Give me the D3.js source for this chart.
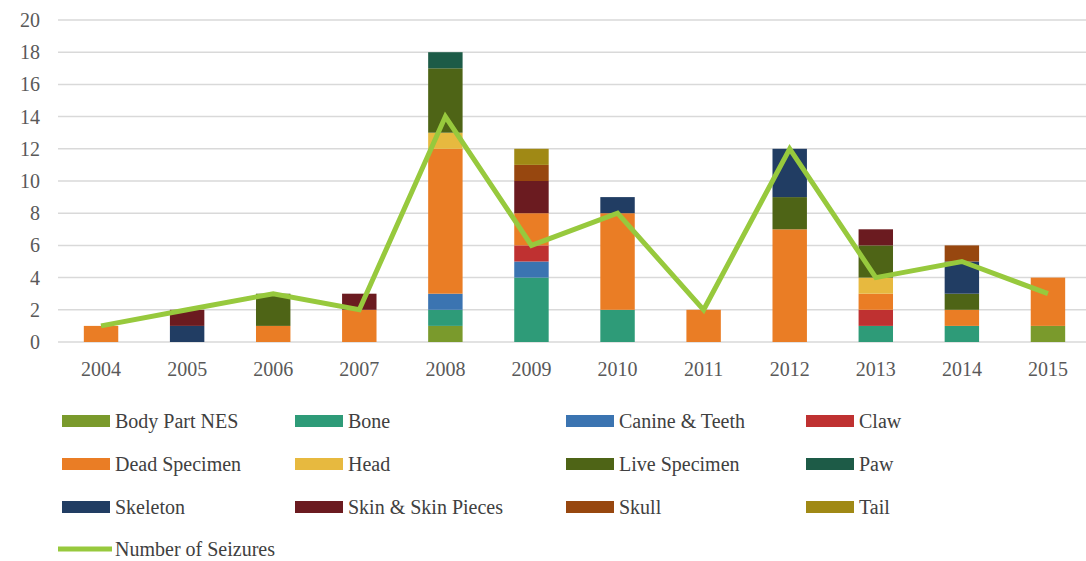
<!DOCTYPE html>
<html><head><meta charset="utf-8">
<script src="https://cdn.jsdelivr.net/npm/d3@7/dist/d3.min.js"></script>
<style>body{margin:0;background:#fff}svg{display:block}
svg text{font-family:"Liberation Serif","Times New Roman","DejaVu Serif","Noto Serif",serif;}</style>
</head><body>
<svg id="c" width="1086" height="561"></svg>
<script>
const years = ["2004","2005","2006","2007","2008","2009","2010","2011","2012","2013","2014","2015"];
const categories = ["Body Part NES","Bone","Canine & Teeth","Claw","Dead Specimen","Head","Live Specimen","Paw","Skeleton","Skin & Skin Pieces","Skull","Tail"];
const bodyPartNES   = [0,0,0,0,1,0,0,0,0,0,0,1];
const bone          = [0,0,0,0,1,4,2,0,0,1,1,0];
const canineTeeth   = [0,0,0,0,1,1,0,0,0,0,0,0];
const claw          = [0,0,0,0,0,1,0,0,0,1,0,0];
const deadSpecimen  = [1,0,1,2,9,2,6,2,7,1,1,3];
const head          = [0,0,0,0,1,0,0,0,0,1,0,0];
const liveSpecimen  = [0,0,2,0,4,0,0,0,2,2,1,0];
const paw           = [0,0,0,0,1,0,0,0,0,0,0,0];
const skeleton      = [0,1,0,0,0,0,1,0,3,0,2,0];
const skinPieces    = [0,1,0,1,0,2,0,0,0,1,0,0];
const skull         = [0,0,0,0,0,1,0,0,0,0,1,0];
const tail          = [0,0,0,0,0,1,0,0,0,0,0,0];
const seizures      = [1,2,3,2,14,6,8,2,12,4,5,3];
const yTicks = [0,2,4,6,8,10,12,14,16,18,20];
const colors = ["#7a9a2c","#2e9b78","#3b74b1","#bf3131","#ea7d25","#e7b93f","#4e6416","#1d5b47","#213d63","#6b1b20","#97470f","#a08915"];
const lineColor = "#97c93d";

const seriesVals = [bodyPartNES,bone,canineTeeth,claw,deadSpecimen,head,liveSpecimen,paw,skeleton,skinPieces,skull,tail];
const table = years.map((y,i)=>{const o={year:y}; categories.forEach((c,j)=>o[c]=seriesVals[j][i]); return o;});
const stacked = d3.stack().keys(categories)(table);

const svg = d3.select("#c");
const x = d3.scaleBand().domain(years).range([58,1091]).padding(0);
const y = d3.scaleLinear().domain([0,20]).range([342,20]);
const bw = x.bandwidth()*0.4;

// gridlines
svg.append("g").selectAll("line").data(yTicks).join("line")
  .attr("x1",58).attr("x2",1086).attr("y1",d=>y(d)).attr("y2",d=>y(d))
  .attr("stroke","#d9d9d9").attr("stroke-width",1.5);

// y axis labels
const yAxis = svg.append("g").attr("transform","translate(40,0)")
  .call(d3.axisLeft(y).tickValues(yTicks).tickSize(0).tickPadding(0));
yAxis.select(".domain").remove();
yAxis.selectAll("text").attr("font-family",null).attr("font-size",20).attr("fill","#595959");

// x axis labels
const xAxis = svg.append("g").attr("transform","translate(0,362)")
  .call(d3.axisBottom(x).tickSize(0).tickPadding(0));
xAxis.select(".domain").remove();
xAxis.selectAll("text").attr("font-family",null).attr("font-size",20).attr("fill","#595959").attr("dy","0.71em");

// bars
svg.append("g").selectAll("g").data(stacked).join("g")
  .attr("fill",(d,i)=>colors[i])
  .selectAll("rect").data(d=>d).join("rect")
  .attr("x",d=>x(d.data.year)+x.bandwidth()/2-bw/2)
  .attr("width",bw)
  .attr("y",d=>y(d[1]))
  .attr("height",d=>y(d[0])-y(d[1]));

// line
const line = d3.line().x((d,i)=>x(years[i])+x.bandwidth()/2).y(d=>y(d));
svg.append("path").datum(seizures).attr("d",line)
  .attr("fill","none").attr("stroke",lineColor).attr("stroke-width",5).attr("stroke-linejoin","miter");

// legend
const colX = [62,295,566,806];
const rowY = [421,464,507];
const lg = svg.append("g");
categories.forEach((c,i)=>{
  const cx = colX[i%4], cy = rowY[Math.floor(i/4)];
  lg.append("rect").attr("x",cx).attr("y",cy-6).attr("width",48).attr("height",12).attr("fill",colors[i]);
  lg.append("text").attr("x",cx+53).attr("y",cy).attr("dy","0.35em")
    .attr("font-size",20).attr("fill","#404040").text(c);
});
lg.append("line").attr("x1",58).attr("x2",112).attr("y1",549).attr("y2",549)
  .attr("stroke",lineColor).attr("stroke-width",5);
lg.append("text").attr("x",115).attr("y",549).attr("dy","0.35em")
  .attr("font-size",20).attr("fill","#404040").text("Number of Seizures");
</script>
</body></html>
